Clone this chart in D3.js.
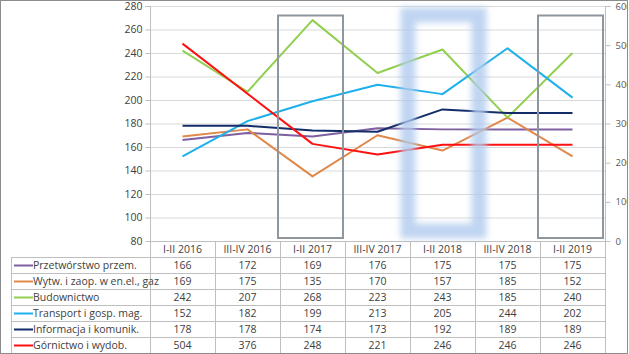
<!DOCTYPE html>
<html><head><meta charset="utf-8">
<script src="https://cdn.jsdelivr.net/npm/d3@7"></script>
<style>
html,body{margin:0;padding:0;background:#fff;}
svg{display:block;font-family:"Open Sans","Noto Sans",sans-serif;}
</style></head>
<body>
<svg id="chart" width="629" height="354"></svg>
<script>
const categories = ["I-II 2016","III-IV 2016","I-II 2017","III-IV 2017","I-II 2018","III-IV 2018","I-II 2019"];
const seriesNames = ["Przetwórstwo przem.","Wytw. i zaop. w en.el., gaz","Budownictwo","Transport i gosp. mag.","Informacja i komunik.","Górnictwo i wydob."];
const przetworstwo = [166,172,169,176,175,175,175];
const wytwarzanie  = [169,175,135,170,157,185,152];
const budownictwo  = [242,207,268,223,243,185,240];
const transport    = [152,182,199,213,205,244,202];
const informacja   = [178,178,174,173,192,189,189];
const gornictwo    = [504,376,248,221,246,246,246];
const leftTicks  = [80,100,120,140,160,180,200,220,240,260,280];
const rightTicks = [0,100,200,300,400,500,600];
const highlightGray = ["I-II 2017","I-II 2019"];
const highlightBlue = ["I-II 2018"];

const seriesValues = [przetworstwo, wytwarzanie, budownictwo, transport, informacja, gornictwo];
const seriesColors = ["#7f5fa0","#e0884a","#92cf50","#1eb0ec","#132d6a","#ff1010"];
const seriesAxis = ["L","L","L","L","L","R"];

const svg = d3.select("#chart");
const W = 629, H = 354;
const plotL = 150, plotR = 605, plotT = 6, plotB = 241;
const rowH = 16, tableTop = 257, labelX = 11;

const x = d3.scaleBand().domain(categories).range([plotL, plotR]).padding(0);
const yL = d3.scaleLinear().domain([80,280]).range([plotB, plotT]);
const yR = d3.scaleLinear().domain([0,600]).range([plotB, plotT]);

const defs = svg.append("defs");
defs.append("filter").attr("id","blur").attr("x","-30%").attr("y","-30%").attr("width","160%").attr("height","160%")
  .append("feGaussianBlur").attr("stdDeviation",3.2);
defs.append("clipPath").attr("id","clipAll").append("rect").attr("x",0).attr("y",0).attr("width",W-1).attr("height",H);

const root = svg.append("g").attr("clip-path","url(#clipAll)");

// gridlines
root.append("g").selectAll("line").data(leftTicks).join("line")
  .attr("x1",plotL).attr("x2",plotR).attr("y1",d=>yL(d)+0.5).attr("y2",d=>yL(d)+0.5)
  .attr("stroke","#d9d9d9").attr("stroke-width",1);

// left axis
const gL = root.append("g").attr("transform",`translate(${plotL+0.5},0)`)
  .call(d3.axisLeft(yL).tickValues(leftTicks).tickSize(5).tickPadding(3));
gL.select(".domain").attr("stroke","#bfbfbf").attr("d",`M-5,${plotT+0.5}H0V${plotB+0.5}`);
gL.selectAll(".tick line").attr("stroke","#bfbfbf");
gL.selectAll(".tick text").attr("fill","#404040").style("font-size","10.5px").style("font-family","'Open Sans',sans-serif");

// right axis
const gR = root.append("g").attr("transform",`translate(${plotR+0.5},0)`)
  .call(d3.axisRight(yR).tickValues(rightTicks).tickSize(5).tickPadding(5));
gR.select(".domain").attr("stroke","#bfbfbf").attr("d",`M5,${plotT+0.5}H0V${plotB+0.5}`);
gR.selectAll(".tick line").attr("stroke","#bfbfbf");
gR.selectAll(".tick text").attr("fill","#595959").style("font-size","9.5px").style("font-family","'Open Sans',sans-serif");

// lines
const lineL = d3.line().x((d,i)=>x(categories[i])+x.bandwidth()/2).y(d=>yL(d));
const lineR = d3.line().x((d,i)=>x(categories[i])+x.bandwidth()/2).y(d=>yR(d));
root.append("g").selectAll("path").data(seriesValues).join("path")
  .attr("d",(d,i)=>seriesAxis[i]==="L"?lineL(d):lineR(d))
  .attr("fill","none").attr("stroke",(d,i)=>seriesColors[i]).attr("stroke-width",2)
  .attr("stroke-linejoin","round");

// highlight rectangles
root.append("g").selectAll("rect").data(highlightBlue).join("rect")
  .attr("x",d=>x(d)-2).attr("y",15).attr("width",d=>x.bandwidth()+6).attr("height",216)
  .attr("fill","none").attr("stroke","#b0caee").attr("stroke-width",15).attr("opacity",0.8)
  .attr("filter","url(#blur)");
root.append("g").selectAll("rect").data(highlightGray).join("rect")
  .attr("x",d=>x(d)-2).attr("y",15.5).attr("width",d=>x.bandwidth()).attr("height",222.5)
  .attr("fill","none").attr("stroke","#8e969e").attr("stroke-width",2);

// data table
const tbl = root.append("g");
const nRows = seriesNames.length;
// horizontal lines
tbl.append("line").attr("x1",plotL).attr("x2",plotR).attr("y1",plotB+0.5).attr("y2",plotB+0.5).attr("stroke","#bfbfbf");
tbl.append("g").selectAll("line").data(d3.range(nRows+1)).join("line")
  .attr("x1",labelX).attr("x2",plotR).attr("y1",d=>tableTop+d*rowH+0.5).attr("y2",d=>tableTop+d*rowH+0.5)
  .attr("stroke","#bfbfbf");
// vertical lines
tbl.append("line").attr("x1",labelX+0.5).attr("x2",labelX+0.5).attr("y1",tableTop).attr("y2",tableTop+nRows*rowH).attr("stroke","#bfbfbf");
tbl.append("g").selectAll("line").data(categories.concat(["end"])).join("line")
  .attr("x1",(d,i)=>plotL+i*x.bandwidth()+0.5).attr("x2",(d,i)=>plotL+i*x.bandwidth()+0.5)
  .attr("y1",plotB).attr("y2",tableTop+nRows*rowH).attr("stroke","#bfbfbf");
// header labels
tbl.append("g").selectAll("text").data(categories).join("text")
  .attr("x",d=>x(d)+x.bandwidth()/2).attr("y",plotB+12)
  .attr("text-anchor","middle").attr("fill","#404040").style("font-size","10.5px").text(d=>d);
// row labels + legend keys
const rows = tbl.append("g").selectAll("g").data(seriesNames).join("g")
  .attr("transform",(d,i)=>`translate(0,${tableTop+i*rowH})`);
rows.append("line").attr("x1",14).attr("x2",33).attr("y1",8.5).attr("y2",8.5)
  .attr("stroke",(d,i)=>seriesColors[i]).attr("stroke-width",2);
rows.append("text").attr("x",33).attr("y",12).attr("fill","#404040").style("font-size","10.5px").text(d=>d);
// values
rows.each(function(name,i){
  d3.select(this).selectAll("text.v").data(seriesValues[i]).join("text").attr("class","v")
    .attr("x",(d,j)=>x(categories[j])+x.bandwidth()/2).attr("y",12)
    .attr("text-anchor","middle").attr("fill","#404040").style("font-size","10.5px").text(d=>d);
});

// outer border
svg.append("rect").attr("x",0.5).attr("y",0.5).attr("width",W-2).attr("height",H-1)
  .attr("fill","none").attr("stroke","#8c8c8c").attr("stroke-width",1);
</script>
</body></html>
